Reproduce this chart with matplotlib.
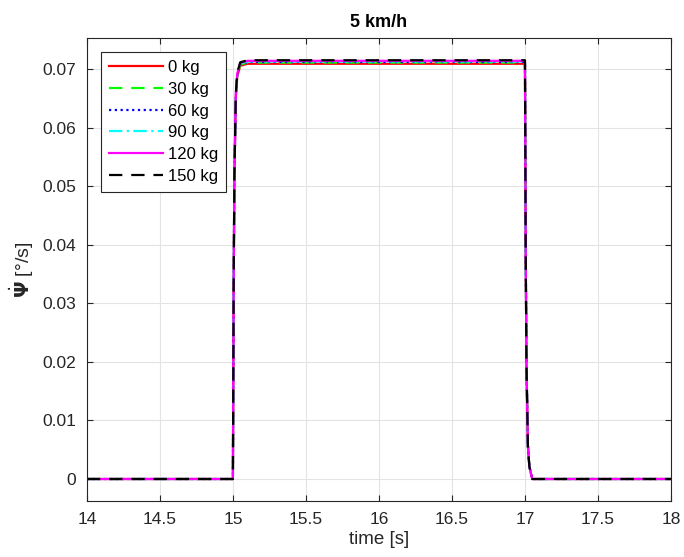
import matplotlib.pyplot as plt
import numpy as np

# ── Data ─────────────────────────────────────────────────────────────────────
masses = ["0 kg", "30 kg", "60 kg", "90 kg", "120 kg", "150 kg"]
plateau = [0.0709, 0.0711, 0.0712, 0.0713, 0.0714, 0.0715]   # steady yaw rate [°/s]

time_pts = [14.0, 15.0, 15.005, 15.01, 15.02, 15.03, 15.05, 15.1,
            17.0, 17.005, 17.01, 17.02, 17.03, 17.05, 18.0]
# normalised step shape (fraction of plateau) at each time point
shape = [0.0, 0.0, 0.45, 0.72, 0.92, 0.97, 0.995, 1.0,
         1.0, 0.55, 0.28, 0.08, 0.03, 0.0, 0.0]

colors = ["#ff0000", "#00ff00", "#0000ff", "#00ffff", "#ff00ff", "#000000"]
styles = ["-", (0, (6, 4)), (0, (1, 1.6)), (0, (6, 2, 1, 2)), "-", (0, (6, 4))]

# ── Plot ─────────────────────────────────────────────────────────────────────
plt.rcParams["font.family"] = ["Liberation Sans", "DejaVu Sans"]

fig = plt.figure(figsize=(6.84, 5.57), dpi=100)
ax = fig.add_axes([0.127, 0.1005, 0.854, 0.8313])

t = np.array(time_pts)
for name, p, c, ls in zip(masses, plateau, colors, styles):
    ax.plot(t, p * np.array(shape), color=c, linestyle=ls, linewidth=1.6, label=name)

ax.set_xlim(14, 18)
ax.set_ylim(-0.00376, 0.0753)
ax.set_xticks(np.arange(14, 18.01, 0.5))
ax.set_xticklabels(["14", "14.5", "15", "15.5", "16", "16.5", "17", "17.5", "18"])
ax.set_yticks(np.arange(0, 0.0701, 0.01))
ax.set_yticklabels(["0", "0.01", "0.02", "0.03", "0.04", "0.05", "0.06", "0.07"])

ax.grid(True, color="#e3e3e3", linewidth=0.8)
ax.set_axisbelow(True)
ax.tick_params(direction="in", length=4, labelsize=12.5, colors="#262626", pad=8,
               top=True, right=True, labeltop=False, labelright=False)
for s in ax.spines.values():
    s.set_color("#262626")
    s.set_linewidth(0.8)

ax.set_title("5 km/h", fontsize=13, fontweight="bold", pad=8)
ax.set_xlabel("time [s]", fontsize=13.5, color="#262626", labelpad=3)
ax.set_ylabel(r"$\dot{\mathbf{\Psi}}$ [°/s]", fontsize=14, color="#262626", labelpad=4)

leg = ax.legend(loc="upper left", bbox_to_anchor=(0.024, 0.97), fontsize=12,
                handlelength=3.25, handletextpad=0.25, labelspacing=0.4,
                borderpad=0.5, borderaxespad=0, fancybox=False, framealpha=1,
                edgecolor="#262626")
leg.get_frame().set_linewidth(0.8)

fig.savefig("out.png", dpi=100)
